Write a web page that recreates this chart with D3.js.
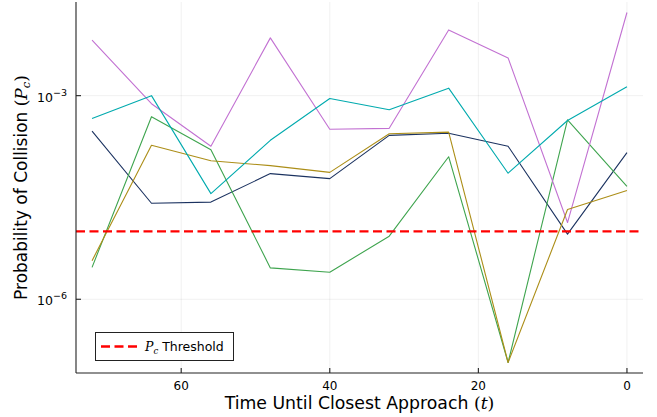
<!DOCTYPE html>
<html>
<head>
<meta charset="utf-8">
<script src="https://cdn.jsdelivr.net/npm/d3@7"></script>
<style>
  html, body { margin: 0; padding: 0; background: #fff; }
  svg { display: block; }
  text { font-family: "DejaVu Sans", sans-serif; fill: #000; }
  .math { font-family: "DejaVu Serif", "Liberation Serif", serif; }
</style>
</head>
<body>
<svg id="chart" width="657" height="417"></svg>
<script>
// Time until closest approach (hours), sampled every 8
const times = [72, 64, 56, 48, 40, 32, 24, 16, 8, 0];

// Probability of collision per object
const seriesNavy   = [3.0e-4, 2.6e-5, 2.7e-5, 7.1e-5, 6.0e-5, 2.6e-4, 2.8e-4, 1.8e-4, 9.1e-6, 1.45e-4];
const seriesGreen  = [2.95e-6, 4.9e-4, 1.6e-4, 2.9e-6, 2.5e-6, 8.5e-6, 1.26e-4, 1.17e-7, 4.4e-4, 4.6e-5];
const seriesPurple = [6.6e-3, 7.6e-4, 1.8e-4, 7.1e-3, 3.2e-4, 3.3e-4, 9.3e-3, 3.6e-3, 1.35e-5, 1.68e-2];
const seriesGold   = [3.7e-6, 1.86e-4, 1.1e-4, 9.3e-5, 7.4e-5, 2.75e-4, 2.9e-4, 1.17e-7, 2.1e-5, 4.0e-5];
const seriesTeal   = [4.6e-4, 1.0e-3, 3.6e-5, 2.2e-4, 9.1e-4, 6.2e-4, 1.29e-3, 7.2e-5, 4.3e-4, 1.35e-3];

const seriesList  = [seriesNavy, seriesGreen, seriesPurple, seriesGold, seriesTeal];
const seriesColor = ["#1b3260", "#3ea44e", "#c271d2", "#ac8e18", "#00aaae"];

// Collision probability threshold
const threshold = 1e-5;

const xTicks = [60, 40, 20, 0];
const yTicks = [1e-6, 1e-3];

const svg = d3.select("#chart");
const plot = { left: 76, right: 643, top: 2, bottom: 373 };

// x axis runs backwards (time counting down), padded 3% on each side
const xMin = d3.min(times), xMax = d3.max(times);
const xPad = (xMax - xMin) * 0.03;
const x = d3.scaleLinear()
  .domain([xMax + xPad, xMin - xPad])
  .range([plot.left, plot.right]);

// log y axis with 3% padding in log space
const allVals = seriesList.flat();
const lMin = Math.log10(d3.min(allVals)), lMax = Math.log10(d3.max(allVals));
const lPad = (lMax - lMin) * 0.03;
const y = d3.scaleLog()
  .domain([Math.pow(10, lMin - lPad), Math.pow(10, lMax + lPad)])
  .range([plot.bottom, plot.top]);

// grid
const grid = svg.append("g").attr("stroke", "#000").attr("stroke-opacity", 0.1).attr("stroke-width", 0.6);
grid.selectAll("line.gx").data(xTicks).join("line")
  .attr("x1", d => x(d)).attr("x2", d => x(d))
  .attr("y1", plot.top).attr("y2", plot.bottom);
grid.selectAll("line.gy").data(yTicks).join("line")
  .attr("x1", plot.left).attr("x2", plot.right)
  .attr("y1", d => y(d)).attr("y2", d => y(d));

// series lines
const line = d3.line()
  .x((d, i) => x(times[i]))
  .y(d => y(d));

svg.append("g").selectAll("path").data(seriesList).join("path")
  .attr("d", d => line(d))
  .attr("fill", "none")
  .attr("stroke", (d, i) => seriesColor[i])
  .attr("stroke-width", 1.1)
  .attr("stroke-linejoin", "round");

// threshold line
svg.append("line")
  .attr("x1", plot.left).attr("x2", plot.right)
  .attr("y1", y(threshold)).attr("y2", y(threshold))
  .attr("stroke", "#ff0000")
  .attr("stroke-width", 2.4)
  .attr("stroke-dasharray", "9,4.5");

// axes spines
const axisG = svg.append("g").attr("stroke", "#222").attr("stroke-width", 1.1);
axisG.append("line")
  .attr("x1", plot.left).attr("x2", plot.left)
  .attr("y1", plot.top).attr("y2", plot.bottom);
axisG.append("line")
  .attr("x1", plot.left).attr("x2", plot.right)
  .attr("y1", plot.bottom).attr("y2", plot.bottom);

// ticks pointing inward
axisG.selectAll("line.tx").data(xTicks).join("line")
  .attr("x1", d => x(d)).attr("x2", d => x(d))
  .attr("y1", plot.bottom).attr("y2", plot.bottom - 5);
axisG.selectAll("line.ty").data(yTicks).join("line")
  .attr("x1", plot.left).attr("x2", plot.left + 5)
  .attr("y1", d => y(d)).attr("y2", d => y(d));

// x tick labels
svg.append("g").selectAll("text").data(xTicks).join("text")
  .attr("x", d => x(d))
  .attr("y", plot.bottom + 17)
  .attr("text-anchor", "middle")
  .attr("font-size", 12)
  .text(d => d);

// y tick labels as powers of ten
const yLab = svg.append("g").selectAll("text").data(yTicks).join("text")
  .attr("x", plot.left - 9)
  .attr("y", d => y(d) + 6)
  .attr("text-anchor", "end")
  .attr("font-size", 12.5);
yLab.append("tspan").text("10");
yLab.append("tspan")
  .attr("dy", -6)
  .attr("font-size", 9.5)
  .text(d => "\u2212" + Math.round(-Math.log10(d)));

// x axis title
const xt = svg.append("text")
  .attr("x", (plot.left + plot.right) / 2)
  .attr("y", 409)
  .attr("text-anchor", "middle")
  .attr("font-size", 17.3);
xt.append("tspan").text("Time Until Closest Approach ");
xt.append("tspan").attr("class", "math").text("(");
xt.append("tspan").attr("class", "math").attr("font-style", "italic").text("t");
xt.append("tspan").attr("class", "math").text(")");

// y axis title
const yt = svg.append("text")
  .attr("transform", `translate(27,${(plot.top + plot.bottom) / 2}) rotate(-90)`)
  .attr("text-anchor", "middle")
  .attr("font-size", 17);
yt.append("tspan").text("Probability of Collision ");
yt.append("tspan").attr("class", "math").text("(");
yt.append("tspan").attr("class", "math").attr("font-style", "italic").text("P");
yt.append("tspan").attr("class", "math").attr("font-style", "italic")
  .attr("font-size", 11.5).attr("dy", 3).text("c");
yt.append("tspan").attr("class", "math").attr("dy", -3).text(")");

// legend
const lg = svg.append("g");
lg.append("rect")
  .attr("x", 95.5).attr("y", 332.5)
  .attr("width", 138).attr("height", 28)
  .attr("fill", "#fff")
  .attr("stroke", "#222").attr("stroke-width", 1);
lg.append("line")
  .attr("x1", 101).attr("x2", 139)
  .attr("y1", 346.5).attr("y2", 346.5)
  .attr("stroke", "#ff0000").attr("stroke-width", 2.4)
  .attr("stroke-dasharray", "9,4.5");
const lt = lg.append("text")
  .attr("x", 145).attr("y", 351)
  .attr("font-size", 12.5);
lt.append("tspan").attr("class", "math").attr("font-style", "italic").text("P");
lt.append("tspan").attr("class", "math").attr("font-style", "italic")
  .attr("font-size", 8.5).attr("dy", 2.5).text("c");
lt.append("tspan").attr("dy", -2.5).text(" Threshold");
</script>
</body>
</html>
